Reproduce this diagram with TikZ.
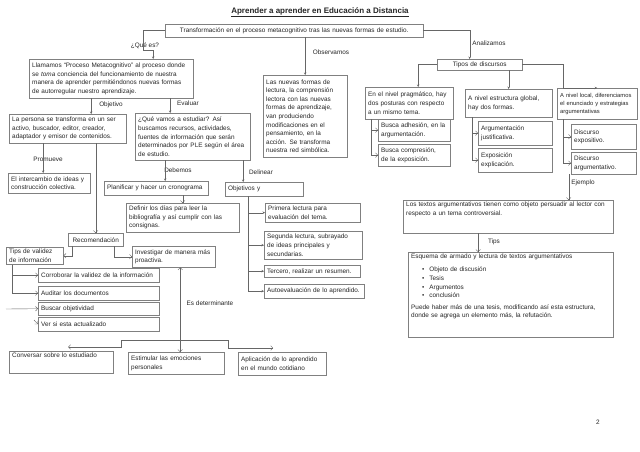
\documentclass[tikz,border=0pt]{standalone}
\usepackage{fontspec}
\setmainfont{Liberation Sans}
\usetikzlibrary{arrows.meta, positioning}

\begin{document}
\begin{tikzpicture}[
    x=1pt, y=-1pt,
    font=\fontsize{6.4}{8.6}\selectfont, text=black!85,
    box/.style={draw=black!50, fill=white, anchor=north west, align=left, inner xsep=3pt, inner ysep=2pt},
    cbox/.style={box, align=center},
    lbl/.style={font=\fontsize{6.4}{8}\selectfont, inner sep=1pt},
    arr/.style={draw=black!60, -{Stealth[length=2.5pt, width=2.5pt]}},
    barb/.style={draw=black!60, -{Straight Barb[length=2.2pt, width=4.5pt]}},
    dbarb/.style={draw=black!60, {Straight Barb[length=2.2pt, width=4.5pt]}-{Straight Barb[length=2.2pt, width=4.5pt]}},
]
\useasboundingbox (0,0) rectangle (640,452);
\fill[white] (0,0) rectangle (640,452);

% ============ top ============
\node[font=\fontsize{8}{10}\selectfont\bfseries] (title) at (320,12) {\underline{Aprender a aprender en Educación a Distancia}};
\node[cbox, text width=252pt, minimum height=13pt] (trans) at (165,24) {Transformación en el proceso metacognitivo tras las nuevas formas de estudio.};

\node[box, text width=158pt, minimum height=39pt] (meta) at (29,59) {Llamamos “Proceso Metacognitivo” al proceso donde\\ se \textit{toma} conciencia del funcionamiento de nuestra\\ manera de aprender permitiéndonos nuevas formas\\ de autorregular nuestro aprendizaje.};
\node[box, text width=78pt, minimum height=82pt] (obs) at (263,75) {Las nuevas formas de\\ lectura, la comprensión\\ lectora con las nuevas\\ formas de aprendizaje,\\ van produciendo\\ modificaciones en el\\ pensamiento, en la\\ acción. Se transforma\\ nuestra red simbólica.};
\node[cbox, text width=79pt, minimum height=11pt] (tipos) at (437,59) {Tipos de discursos};

\node[lbl] (quees) at (145,46) {¿Qué es?};
\node[lbl] (observ) at (331,52) {Observamos};
\node[lbl] (analiz) at (489,43) {Analizamos};
\draw[arr] (trans.west) -| ++(-22,20) -| ([xshift=42pt]meta.north);
\draw[arr] (trans.south -| obs.north) -- (obs.north);
\draw[arr] (trans.east) -| ([xshift=-10pt]tipos.north);

% ============ tipos de discursos ============
\node[box, text width=82pt, minimum height=32pt] (prag) at (365,87) {En el nivel pragmático, hay\\ dos posturas con respecto\\ a un mismo tema.};
\node[box, text width=66pt, minimum height=22pt] (adhes) at (378,119) {Busca adhesión, en la\\ argumentación.};
\node[box, text width=66pt, minimum height=22pt] (compr) at (378,144) {Busca compresión,\\ de la exposición.};
\node[box, text width=81pt, minimum height=28pt] (glob) at (465,89) {A nivel estructura global,\\ hay dos formas.};
\node[box, text width=68pt, minimum height=24pt] (justif) at (478,121) {Argumentación\\ justificativa.};
\node[box, text width=68pt, minimum height=24pt] (explic) at (478,148) {Exposición\\ explicación.};
\node[box, text width=74pt, minimum height=31pt, font=\fontsize{5.8}{8}\selectfont] (local) at (557,88) {A nivel local, diferenciamos\\ el enunciado y estrategias\\ argumentativas};
\node[box, text width=59pt, minimum height=25pt] (disexp) at (571,124) {Discurso\\ expositivo.};
\node[box, text width=59pt, minimum height=22pt] (disarg) at (571,152) {Discurso\\ argumentativo.};

\draw[arr] (tipos.west) -| ([xshift=9pt]prag.north);
\draw[arr] (tipos.south -| glob.north) -- (glob.north);
\draw[arr] (tipos.east) -- ++(41,0) |- (local.north);
\draw[barb] ([xshift=6pt]prag.south west) |- (adhes.west);
\draw[barb] ([xshift=6pt]prag.south west) |- (compr.west);
\draw[barb] ([xshift=7pt]glob.south west) |- (justif.west);
\draw[barb] ([xshift=7pt]glob.south west) |- (explic.west);
\draw[barb] ([xshift=6pt]local.south west) |- (disexp.west);
\draw[barb] ([xshift=6pt]local.south west) |- (disarg.west);

\node[box, text width=204pt] (texarg) at (403,200) {Los textos argumentativos tienen como objeto persuadir al lector con\\ respecto a un tema controversial.\rule[-15.5pt]{0pt}{15.5pt}};
\node[box, text width=199pt] (esquema) at (408,252) {Esquema de armado y lectura de textos argumentativos\\[4.5pt]
  \hspace*{11pt}\textbullet\hspace*{5pt}Objeto de discusión\\
  \hspace*{11pt}\textbullet\hspace*{5pt}Tesis\\
  \hspace*{11pt}\textbullet\hspace*{5pt}Argumentos\\
  \hspace*{11pt}\textbullet\hspace*{5pt}conclusión\\[3pt]
  Puede haber más de una tesis, modificando así esta estructura,\\ donde se agrega un elemento más, la refutación.\rule[-17pt]{0pt}{17pt}};
\node[lbl] (ejemplo) at (583,183) {Ejemplo};
\node[lbl] (tips) at (494,242) {Tips};
\draw[barb] ([xshift=-35pt]disarg.south) -- ([xshift=-35pt]disarg.south |- texarg.north);
\draw[barb] ([xshift=-30pt]texarg.south) -- ([xshift=-30pt]texarg.south |- esquema.north);

% ============ left column ============
\node[box, text width=111pt, minimum height=29pt] (persona) at (9,114) {La persona se transforma en un ser\\ activo, buscador, editor, creador,\\ adaptador y emisor de contenidos.};
\node[box, text width=109pt, minimum height=47pt] (estudiar) at (135,113) {¿Qué vamos a estudiar? Así\\ buscamos recursos, actividades,\\ fuentes de información que serán\\ determinados por PLE según el área\\ de estudio.};
\node[box, text width=76pt, minimum height=20pt] (interc) at (8,173) {El intercambio de ideas y\\ construcción colectiva.};
\node[box, text width=98pt, minimum height=14pt] (planif) at (104,181) {Planificar y hacer un cronograma};
\node[box, text width=107pt, minimum height=29pt] (definir) at (126,203) {Definir los días para leer la\\ bibliografía y así cumplir con las\\ consignas.};
\node[box, text width=72pt, minimum height=14pt] (objet) at (225,182) {Objetivos y};
\node[box, text width=89pt, minimum height=19pt] (primera) at (265,203) {Primera lectura para\\ evaluación del tema.};
\node[box, text width=92pt, minimum height=28pt] (segunda) at (264,231) {Segunda lectura, subrayado\\ de ideas principales y\\ secundarias.};
\node[box, text width=90pt, minimum height=12pt] (tercero) at (264,265) {Tercero, realizar un resumen.};
\node[box, text width=94pt, minimum height=14pt] (autoev) at (264,284) {Autoevaluación de lo aprendido.};

\node[lbl] (objetivo) at (111,105) {Objetivo};
\node[lbl] (evaluar) at (188,103) {Evaluar};
\node[lbl] (promueve) at (48,159) {Promueve};
\node[lbl] (debemos) at (178,170) {Debemos};
\node[lbl] (delinear) at (261,172) {Delinear};

\draw[arr] ([xshift=-20pt]meta.south) -- ([xshift=-20pt]meta.south |- persona.north);
\draw[arr] ([xshift=59pt]meta.south) -- ([xshift=59pt]meta.south |- estudiar.north);
\draw[arr] ([xshift=-6pt]interc.north |- persona.south) -- ([xshift=-6pt]interc.north);
\draw[arr] ([xshift=9pt]planif.north |- estudiar.south) -- ([xshift=9pt]planif.north);
\draw[barb] (definir.north |- planif.south) -- (definir.north);
\draw[arr] ([xshift=-21pt]objet.north |- estudiar.south) -- ([xshift=-21pt]objet.north);
\foreach \n in {primera, segunda, tercero, autoev}
  \draw[arr] ([xshift=-16pt]objet.south) |- (\n.west);

% ============ recomendacion ============
\node[cbox, text width=49pt, minimum height=13pt] (recom) at (68,233) {Recomendación};
\node[box, text width=51pt, minimum height=17pt] (tipsval) at (6,247) {Tips de validez\\ de información};
\node[box, text width=77pt, minimum height=21pt] (investig) at (132,246) {Investigar de manera más\\ proactiva.};
\node[box, text width=115pt, minimum height=14pt] (corrob) at (38,268) {Corroborar la validez de la información};
\node[box, text width=115pt, minimum height=14pt] (audit) at (38,286) {Auditar los documentos};
\node[box, text width=115pt, minimum height=13pt] (buscar) at (38,302) {Buscar objetividad};
\node[box, text width=115pt, minimum height=14pt] (veract) at (38,317) {Ver si esta actualizado};
\coordinate (bfree) at (6,309);
\coordinate (vfree) at (34,320);

\draw[barb] (persona.south -| recom.north) -- (recom.north);
\draw[barb] ([xshift=4pt]recom.south west) |- (tipsval.east);
\draw[barb] ([xshift=-9pt]recom.south east) |- (investig.west);
\draw[barb] ([xshift=6pt]tipsval.south west) |- (corrob.west);
\draw[barb] ([xshift=6pt]tipsval.south west) |- (audit.west);
\draw[barb] (bfree) -- (buscar.west);
\draw[barb] (vfree) -- (veract.west);

% ============ bottom row ============
\node[box, text width=98pt] (conv) at (9,351) {Conversar sobre lo estudiado\rule[-13pt]{0pt}{13pt}};
\node[box, text width=90pt, minimum height=22pt] (emoc) at (128,352) {Estimular las emociones\\ personales};
\node[box, text width=82pt, minimum height=23pt] (aplic) at (238,352) {Aplicación de lo aprendido\\ en el mundo cotidiano};
\node[lbl] (esdet) at (210,303) {Es determinante};
\coordinate (bar) at ([xshift=4pt, yshift=12pt]emoc.north);

\draw[dbarb] ([xshift=4pt]emoc.north |- investig.south) -- ([xshift=4pt]emoc.north);
\draw[barb] (bar) -- ++(-59,0) |- ([xshift=7pt, yshift=4pt]conv.north);
\draw[barb] (bar) -- ++(48,0) |- ([xshift=-9pt, yshift=4pt]aplic.north);

\node[lbl] (pnum) at (598,422) {2};

\end{tikzpicture}
\end{document}
